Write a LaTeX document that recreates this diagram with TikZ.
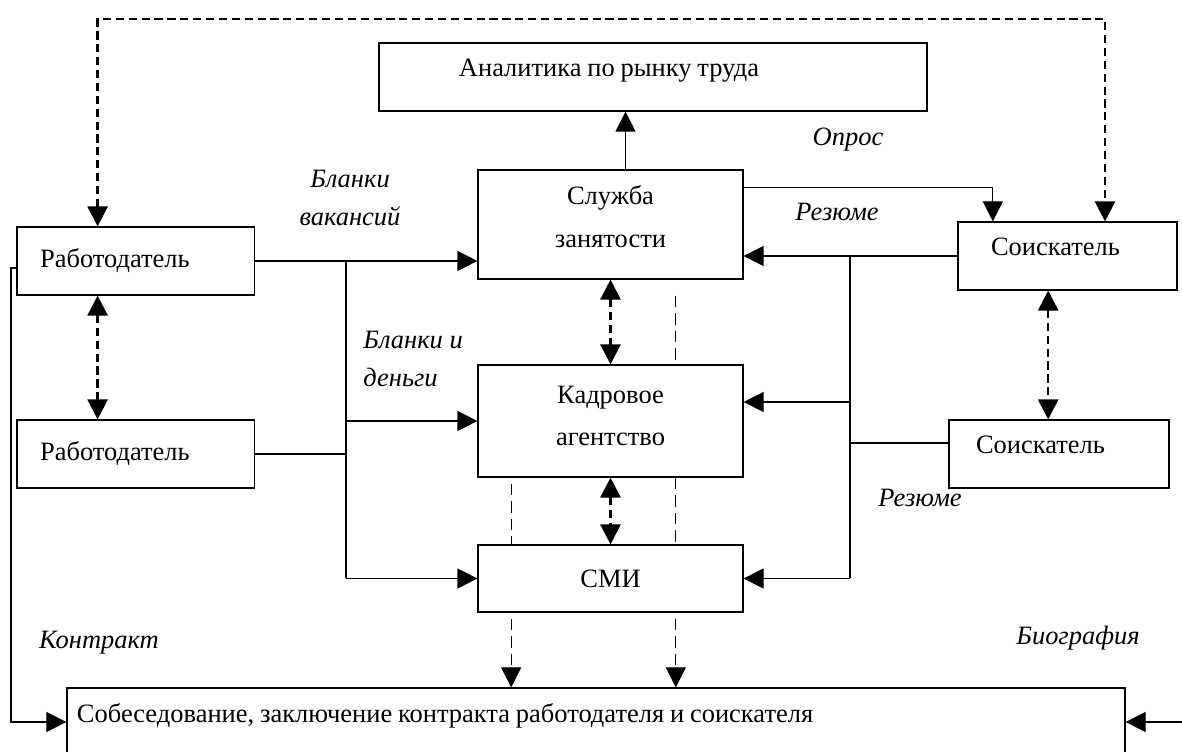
\documentclass[tikz,border=0pt]{standalone}
\usepackage{fontspec}
\setmainfont{Liberation Serif}
\usetikzlibrary{arrows.meta,positioning}
\newcommand\tsp{\spaceskip=0.22em\relax}

\begin{document}
\begin{tikzpicture}[x=0.015cm, y=-0.015cm,
  >={Triangle[length=3mm,width=3mm]},
  box/.style={rectangle, draw, line width=0.5pt, align=center,
              minimum width=3.975cm, font=\fontsize{11.3}{18}\selectfont},
  lbox/.style={box, align=left, minimum width=0pt, minimum height=1.02cm,
               text height=0.28cm, text depth=0.28cm, execute at begin node=\tsp},
  lbl/.style={font=\fontsize{11.3}{16}\selectfont\itshape, inner sep=0pt},
  arrow/.style={->, line width=0.5pt},
  dbold/.style={<->, line width=1.1pt, dash pattern=on 3.5pt off 2pt},
  dthin/.style={line width=0.5pt, dash pattern=on 5pt off 2.5pt}
]
\useasboundingbox (0,0) rectangle (1182,752);

\node[lbox, text width=5.82cm, inner xsep=1.2cm] (anal) at (653,77) {Аналитика по рынку труда};

\node[box, minimum height=1.635cm, text depth=0.24cm] (sluzhba) at (610.5,224.5) {Служба\\занятости};
\node[box, minimum height=1.68cm, text depth=0.15cm] (kadr) at (610.5,421) {Кадровое\\агентство};
\node[box, minimum height=1.005cm] (smi) at (610.5,578.5) {СМИ};

\node[lbox, text width=2.87cm, inner xsep=0.345cm, text height=0.385cm, text depth=0.175cm] (rab1) at (135.75,261) {Работодатель};
\node[lbox, text width=2.87cm, inner xsep=0.345cm, text height=0.385cm, text depth=0.175cm] (rab2) at (135.75,454) {Работодатель};
\node[lbox, text width=2.295cm, inner xsep=0.495cm] (soisk1) at (1067.5,256) {Соискатель};
\node[lbox, text width=2.49cm, inner xsep=0.405cm] (soisk2) at (1059,454) {Соискатель};

\node[lbox, text width=15.57cm, inner xsep=0.15cm] (sobes) at (596,722)
  {Собеседование, заключение контракта работодателя и соискателя};

\node[lbl, align=center] (blv) at (350,198) {Бланки\\вакансий};
\node[lbl, anchor=west, align=left] (bld) at (363,359) {Бланки и\\деньги};
\node[lbl] (opr) at (848,140) {Опрос};
\node[lbl] (rez1) at (837,212) {Резюме};
\node[lbl] (rez2) at (920,498) {Резюме};
\node[lbl] (kontr) at (99,643) {Контракт};
\node[lbl] (bio) at (1078,638) {Биография};

\coordinate (top) at (600,19);
\coordinate (busL) at (346,578.5);
\coordinate (busR) at (850,578.5);
\coordinate (edge) at (11,0);
\coordinate (bioin) at (1182,722);

% employers side
\draw[arrow] (rab1.east) -- (rab1.east -| sluzhba.west);
\draw[line width=0.5pt] (rab1.east -| busL) -- (busL);
\draw[line width=0.5pt] (rab2.east) -- (rab2.east -| busL);
\draw[arrow] (busL |- kadr.west) -- (kadr.west);
\draw[arrow] (busL) -- (smi.west);

% applicants side
\draw[line width=0.5pt] (soisk1.west) -| (busR);
\draw[line width=0.5pt] ([yshift=0.165cm]soisk2.west) -- ([yshift=0.165cm]soisk2.west -| busR);
\draw[arrow] (busR |- soisk1.west) -- (soisk1.west -| sluzhba.east);
\draw[arrow] ([yshift=0.285cm]kadr.east -| busR) -- ([yshift=0.285cm]kadr.east);
\draw[arrow] (busR) -- (smi.east);

\draw[arrow] ([xshift=0.225cm]sluzhba.north) -- ([xshift=0.225cm]sluzhba.north |- anal.south);
\draw[arrow] ([yshift=0.55cm]sluzhba.east) -| ([xshift=-1.12cm]soisk1.north);

% dashed links
\draw[dbold] ([xshift=-0.572cm]rab1.north) |- (top) -| ([xshift=0.5625cm]soisk1.north);
\draw[dbold] ([xshift=-0.572cm]rab1.south) -- ([xshift=-0.572cm]rab2.north);
\draw[dbold] (sluzhba.south) -- (kadr.north);
\draw[dbold] (kadr.south) -- (smi.north);
\draw[dbold] ([xshift=-0.29cm]soisk1.south) -- ([xshift=-0.29cm]soisk1.south |- soisk2.north);

\draw[dthin] ([xshift=0.98cm,yshift=-0.24cm]sluzhba.south) -- ([xshift=0.98cm]kadr.north);
\draw[dthin] ([xshift=0.98cm]kadr.south) -- ([xshift=0.98cm]smi.north);
\draw[dthin] ([xshift=-1.49cm,yshift=-0.09cm]kadr.south) -- ([xshift=-1.49cm]smi.north);
\draw[dthin, ->] ([xshift=0.98cm,yshift=-0.09cm]smi.south) -- ([xshift=0.98cm]smi.south |- sobes.north);
\draw[dthin, ->] ([xshift=-1.49cm,yshift=-0.09cm]smi.south) -- ([xshift=-1.49cm]smi.south |- sobes.north);

% contract and biography
\draw[arrow] ([yshift=-0.105cm]rab1.west) -| (edge |- sobes.west) -- (sobes.west);
\draw[arrow] (bioin) -- (sobes.east);
\end{tikzpicture}
\end{document}
